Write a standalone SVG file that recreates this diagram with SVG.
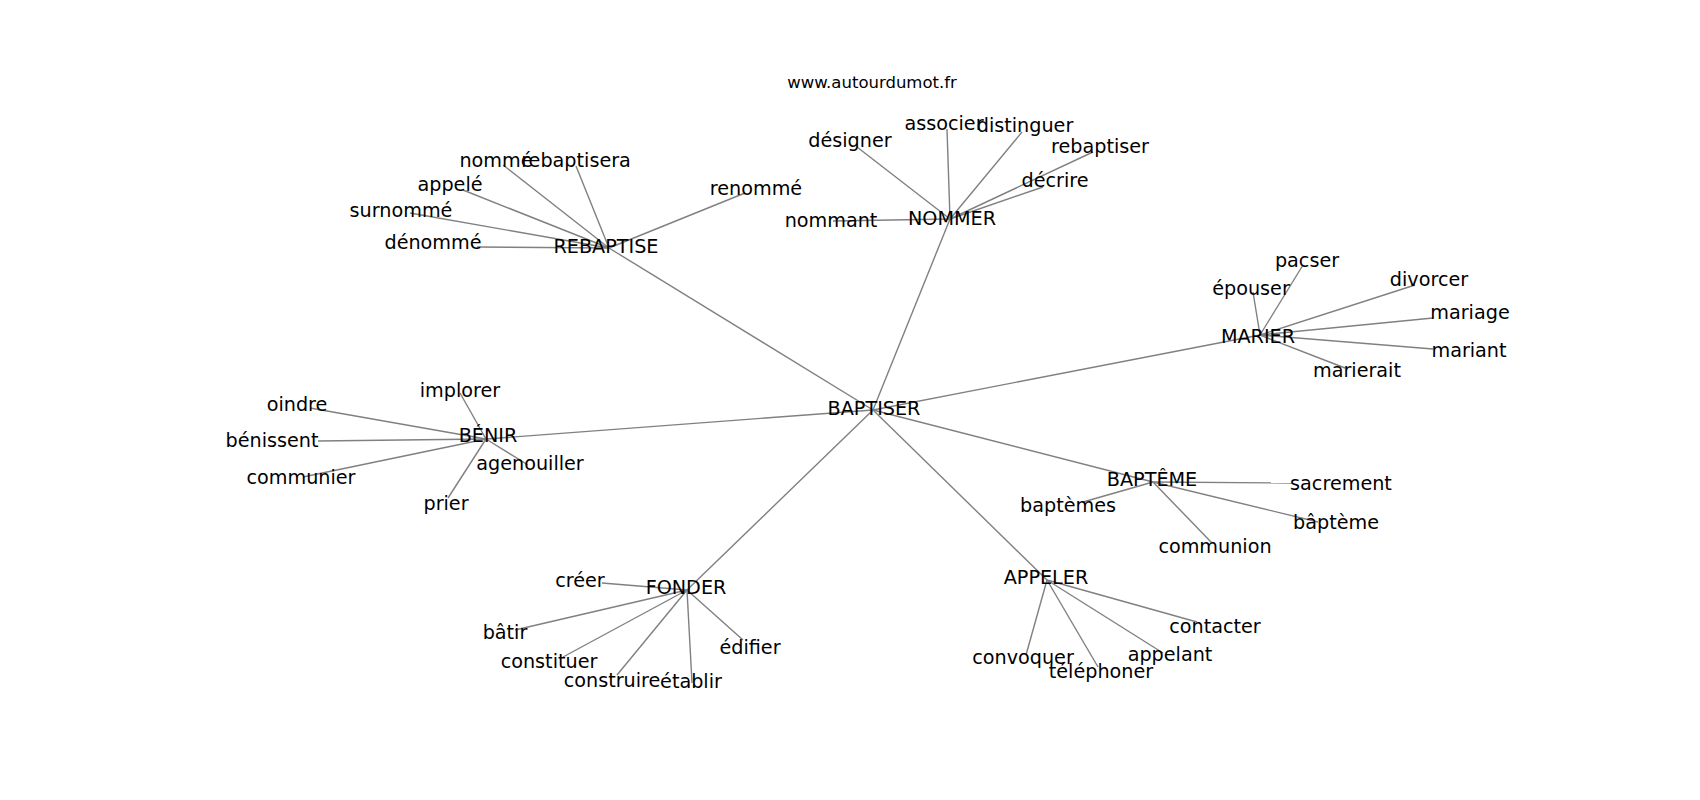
<svg xmlns="http://www.w3.org/2000/svg" width="1700" height="800" viewBox="0 0 1700 800">
<style>
.e{stroke:#808080;stroke-width:1.4;fill:none}
.t{font-family:"DejaVu Sans","Liberation Sans",sans-serif;font-size:19.2px;fill:#000;text-anchor:middle}
.title{font-family:"DejaVu Sans","Liberation Sans",sans-serif;font-size:16.5px;fill:#000;text-anchor:middle}
</style>
<rect width="1700" height="800" fill="#fff"/>
<text class="title" x="872" y="88">www.autourdumot.fr</text>
<g id="connectors">
<line class="e" x1="873" y1="410" x2="609" y2="248"/>
<line class="e" x1="873" y1="410" x2="950" y2="219"/>
<line class="e" x1="873" y1="410" x2="1260" y2="335"/>
<line class="e" x1="873" y1="410" x2="486" y2="439"/>
<line class="e" x1="873" y1="410" x2="1153" y2="482"/>
<line class="e" x1="873" y1="410" x2="1047" y2="580"/>
<line class="e" x1="873" y1="410" x2="687" y2="590"/>
<line class="e" x1="609" y1="248" x2="503" y2="165"/>
<line class="e" x1="609" y1="248" x2="576" y2="166"/>
<line class="e" x1="609" y1="248" x2="463" y2="190"/>
<line class="e" x1="609" y1="248" x2="410" y2="213"/>
<line class="e" x1="609" y1="248" x2="477" y2="247"/>
<line class="e" x1="609" y1="248" x2="745" y2="193"/>
<line class="e" x1="950" y1="219" x2="833" y2="221"/>
<line class="e" x1="950" y1="219" x2="857" y2="147"/>
<line class="e" x1="950" y1="219" x2="947" y2="129"/>
<line class="e" x1="950" y1="219" x2="1022" y2="132"/>
<line class="e" x1="950" y1="219" x2="1093" y2="152"/>
<line class="e" x1="950" y1="219" x2="1043" y2="187"/>
<line class="e" x1="1260" y1="335" x2="1303" y2="265"/>
<line class="e" x1="1260" y1="335" x2="1253" y2="292"/>
<line class="e" x1="1260" y1="335" x2="1415" y2="285"/>
<line class="e" x1="1260" y1="335" x2="1433" y2="318"/>
<line class="e" x1="1260" y1="335" x2="1433" y2="349"/>
<line class="e" x1="1260" y1="335" x2="1345" y2="368"/>
<line class="e" x1="486" y1="439" x2="460" y2="393"/>
<line class="e" x1="486" y1="439" x2="310" y2="408"/>
<line class="e" x1="486" y1="439" x2="318" y2="441"/>
<line class="e" x1="486" y1="439" x2="303" y2="477"/>
<line class="e" x1="486" y1="439" x2="528" y2="465"/>
<line class="e" x1="486" y1="439" x2="448" y2="498"/>
<line class="e" x1="1153" y1="482" x2="1083" y2="502"/>
<line class="e" x1="1153" y1="482" x2="1293" y2="483"/>
<line class="e" x1="1153" y1="482" x2="1318" y2="522"/>
<line class="e" x1="1153" y1="482" x2="1212" y2="543"/>
<line class="e" x1="1047" y1="580" x2="1197" y2="622"/>
<line class="e" x1="1047" y1="580" x2="1163" y2="653"/>
<line class="e" x1="1047" y1="580" x2="1026" y2="655"/>
<line class="e" x1="1047" y1="580" x2="1098" y2="667"/>
<line class="e" x1="687" y1="590" x2="602" y2="583"/>
<line class="e" x1="687" y1="590" x2="515" y2="630"/>
<line class="e" x1="687" y1="590" x2="563" y2="657"/>
<line class="e" x1="687" y1="590" x2="617" y2="675"/>
<line class="e" x1="687" y1="590" x2="692" y2="683"/>
<line class="e" x1="687" y1="590" x2="743" y2="640"/>
</g>
<g id="n-baptiser"><text class="t" x="874" y="415">BAPTISER</text></g>
<g id="n-rebaptise"><text class="t" x="606" y="253">REBAPTISE</text></g>
<g id="n-nommer"><text class="t" x="952" y="225">NOMMER</text></g>
<g id="n-marier"><text class="t" x="1258" y="343">MARIER</text></g>
<g id="n-benir"><text class="t" x="488" y="442">BÉNIR</text></g>
<g id="n-bapteme"><text class="t" x="1152" y="486">BAPTÊME</text></g>
<g id="n-appeler"><text class="t" x="1046" y="584">APPELER</text></g>
<g id="n-fonder"><text class="t" x="686" y="594">FONDER</text></g>
<g id="n-nomme"><text class="t" x="496" y="167">nommé</text></g>
<g id="n-rebaptisera"><text class="t" x="576" y="167">rebaptisera</text></g>
<g id="n-appele"><text class="t" x="450" y="191">appelé</text></g>
<g id="n-surnomme"><text class="t" x="401" y="217">surnommé</text></g>
<g id="n-denomme"><text class="t" x="433" y="249">dénommé</text></g>
<g id="n-renomme"><text class="t" x="756" y="195">renommé</text></g>
<g id="n-nommant"><text class="t" x="831" y="227">nommant</text></g>
<g id="n-designer"><text class="t" x="850" y="147">désigner</text></g>
<g id="n-associer"><text class="t" x="944" y="130">associer</text></g>
<g id="n-distinguer"><text class="t" x="1025" y="132">distinguer</text></g>
<g id="n-rebaptiser"><text class="t" x="1100" y="153">rebaptiser</text></g>
<g id="n-decrire"><text class="t" x="1055" y="187">décrire</text></g>
<g id="n-pacser"><text class="t" x="1307" y="267">pacser</text></g>
<g id="n-epouser"><text class="t" x="1251" y="295">épouser</text></g>
<g id="n-divorcer"><text class="t" x="1429" y="286">divorcer</text></g>
<g id="n-mariage"><text class="t" x="1470" y="319">mariage</text></g>
<g id="n-mariant"><text class="t" x="1469" y="357">mariant</text></g>
<g id="n-marierait"><text class="t" x="1357" y="377">marierait</text></g>
<g id="n-implorer"><text class="t" x="460" y="397">implorer</text></g>
<g id="n-oindre"><text class="t" x="297" y="411">oindre</text></g>
<g id="n-benissent"><text class="t" x="272" y="447">bénissent</text></g>
<g id="n-communier"><text class="t" x="301" y="484">communier</text></g>
<g id="n-agenouiller"><text class="t" x="530" y="470">agenouiller</text></g>
<g id="n-prier"><text class="t" x="446" y="510">prier</text></g>
<g id="n-baptemes"><text class="t" x="1068" y="512">baptèmes</text></g>
<g id="n-sacrement"><text class="t" x="1341" y="490">sacrement</text></g>
<g id="n-baptème"><text class="t" x="1336" y="529">bâptème</text></g>
<g id="n-communion"><text class="t" x="1215" y="553">communion</text></g>
<g id="n-contacter"><text class="t" x="1215" y="633">contacter</text></g>
<g id="n-appelant"><text class="t" x="1170" y="661">appelant</text></g>
<g id="n-convoquer"><text class="t" x="1023" y="664">convoquer</text></g>
<g id="n-telephoner"><text class="t" x="1101" y="678">téléphoner</text></g>
<g id="n-creer"><text class="t" x="580" y="587">créer</text></g>
<g id="n-batir"><text class="t" x="505" y="639">bâtir</text></g>
<g id="n-constituer"><text class="t" x="549" y="668">constituer</text></g>
<g id="n-construire"><text class="t" x="612" y="687">construire</text></g>
<g id="n-etablir"><text class="t" x="691" y="688">établir</text></g>
<g id="n-edifier"><text class="t" x="750" y="654">édifier</text></g>
</svg>
